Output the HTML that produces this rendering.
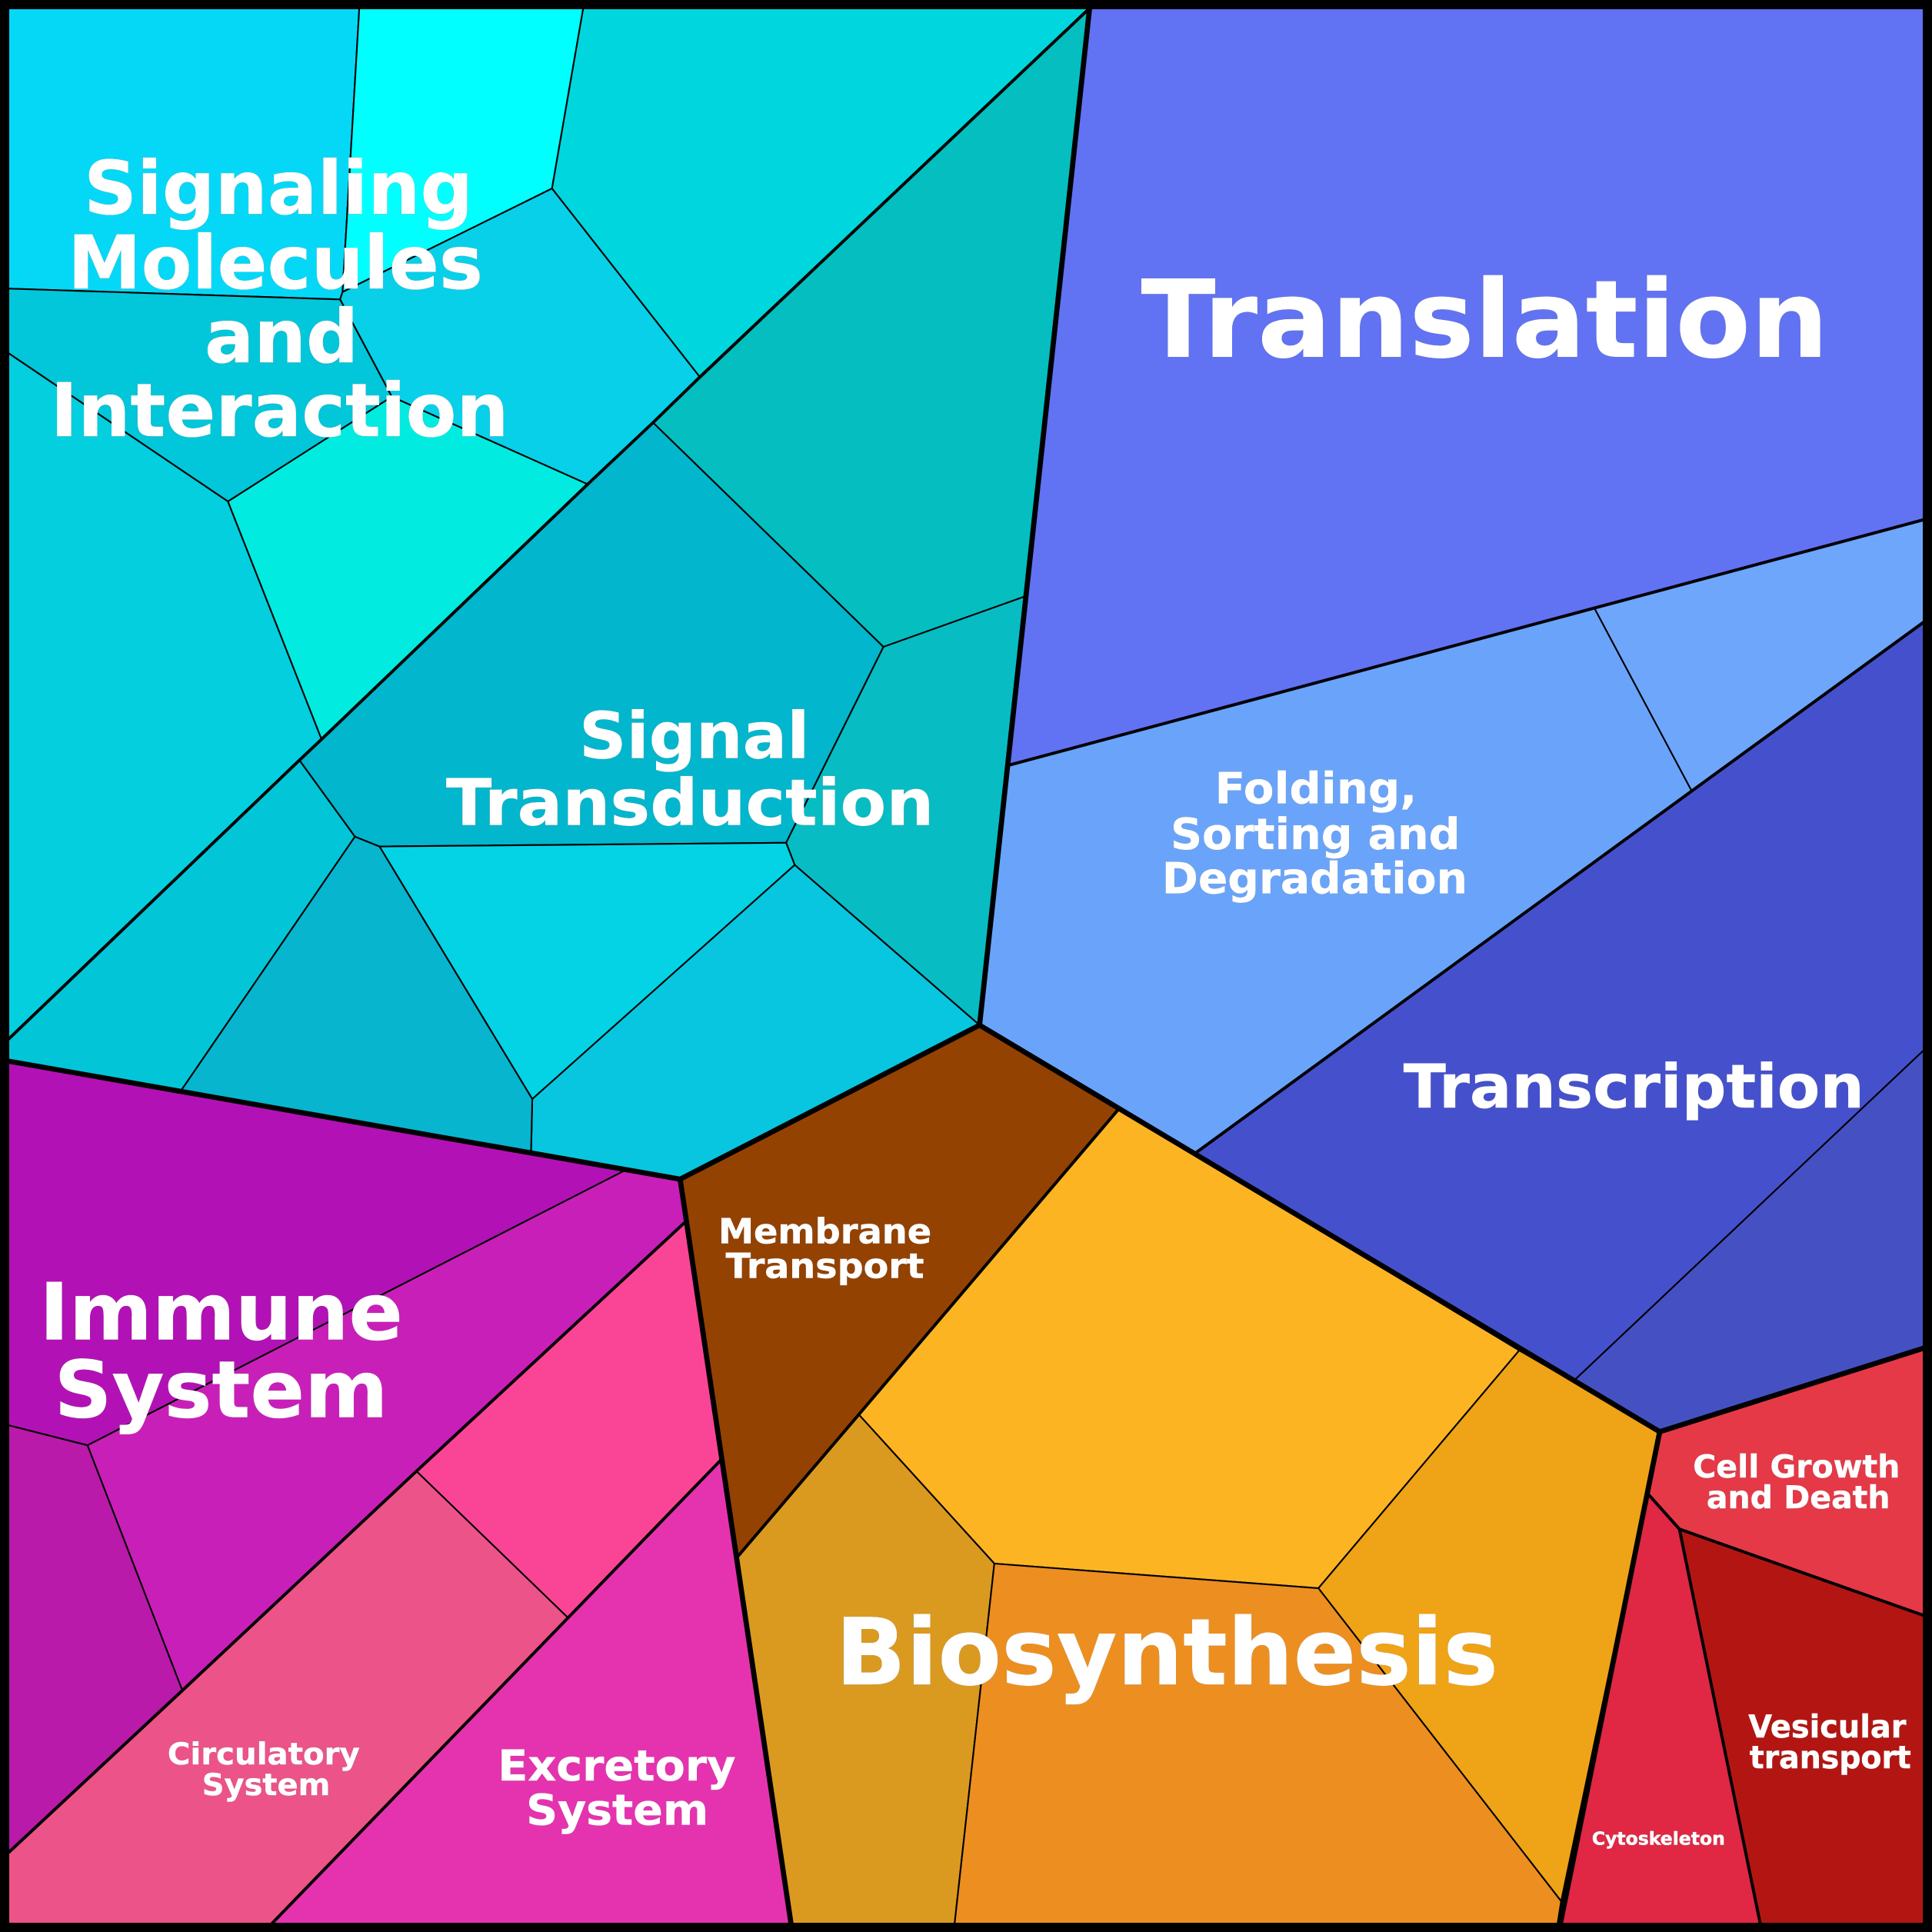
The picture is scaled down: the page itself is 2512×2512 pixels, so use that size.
<!DOCTYPE html>
<html><head><meta charset="utf-8"><style>
html,body{margin:0;padding:0;background:#000}
svg{display:block}
text{font-family:"DejaVu Sans",sans-serif;font-weight:bold;fill:#fff;stroke:#fff;stroke-width:.35;text-rendering:geometricPrecision}
</style></head><body>
<svg xmlns="http://www.w3.org/2000/svg" width="2512" height="2512" viewBox="0 0 1568 1568">
<g stroke="#000" stroke-width="1.3" stroke-linejoin="round">
<polygon fill="#05d8f7" points="0,0 292,0 278,237 276,243 0,234"/>
<polygon fill="#00ffff" points="292,0 474.5,0 448,153 278,237"/>
<polygon fill="#00d6dd" points="474.5,0 891,0 568,306 448,153"/>
<polygon fill="#08d0e8" points="448,153 568,306 477,393 318,322 276,243 278,237"/>
<polygon fill="#02c6d9" points="0,234 276,243 318,322 185,407 0,282"/>
<polygon fill="#03cfdf" points="0,282 185,407 261,600 243,617 0,850"/>
<polygon fill="#02ebe0" points="185,407 318,322 477,393 261,600"/>
<polygon fill="#04bebf" points="530,343 885,6 832,484 717,525"/>
<polygon fill="#01b6cd" points="530,343 717,525 638,684 308,687 288,679 243,617 261,600"/>
<polygon fill="#08bcc4" points="717,525 832,484 795,832 645,702 638,684"/>
<polygon fill="#03d3e5" points="308,687 638,684 645,702 432,892"/>
<polygon fill="#09c6e0" points="645,702 795,832 552,957 431,935 432,892"/>
<polygon fill="#07b5cf" points="288,679 308,687 432,892 431,935 147,885"/>
<polygon fill="#02c6d8" points="243,617 288,679 147,885 0,860 0,850"/>
<polygon fill="#6172f3" points="885,0 1568,0 1568,420 819,621"/>
<polygon fill="#69a4fa" points="819,621 1294,493.5 1373,642 970,936 795,832"/>
<polygon fill="#6ea6fb" points="1294,493.5 1568,420 1568,500 1373,642"/>
<polygon fill="#4551cc" points="1373,642 1568,500 1568,846 1278,1120 970,936"/>
<polygon fill="#4551c3" points="1568,846 1568,1092 1347,1162 1278,1120"/>
<polygon fill="#944202" points="795,832 908,900 697,1148 599,1263 552,957"/>
<polygon fill="#fdb423" points="908,900 1233,1096 1070,1289 807,1269 697,1148"/>
<polygon fill="#efa316" points="1233,1096 1347,1162 1267,1543 1070,1289"/>
<polygon fill="#da9a20" points="697,1148 807,1269 774,1568 643,1568 599,1263"/>
<polygon fill="#ec8f20" points="807,1269 1070,1289 1267,1543 1263,1568 774,1568"/>
<polygon fill="#e53948" points="1347,1162 1568,1092 1568,1313.5 1363,1241 1338,1213"/>
<polygon fill="#e02744" points="1338,1213 1363,1241 1430,1568 1265,1568"/>
<polygon fill="#b31612" points="1363,1241 1568,1313.5 1568,1568 1430,1568"/>
<polygon fill="#b212b5" points="0,860 552,957 507,950 71,1173 0,1155"/>
<polygon fill="#c91fb9" points="507,950 552,957 557,991 148,1372 71,1173"/>
<polygon fill="#b91aa9" points="0,1155 71,1173 148,1372 0,1510"/>
<polygon fill="#fa4597" points="557,991 585,1185 461,1313 338,1194"/>
<polygon fill="#ec5388" points="338,1194 461,1313 214,1568 0,1568 0,1510"/>
<polygon fill="#e533b0" points="585,1185 643,1568 214,1568 461,1313"/>
</g>
<g fill="none" stroke="#000" stroke-width="2.5" stroke-linejoin="round">
<polyline points="885,6 568,306 530,343 477,393 261,600 243,617 0,850"/>
<polyline points="819,621 1294,493.5 1568,420"/>
<polyline points="1568,500 1373,642 970,936"/>
<polyline points="908,900 697,1148 599,1263"/>
<polyline points="557,991 338,1194 148,1372 0,1510"/>
<polyline points="585,1185 461,1313 214,1568"/>
<polyline points="1338,1213 1363,1241 1430,1568"/>
<polyline points="1363,1241 1568,1313.5"/>
</g>
<g fill="none" stroke="#000" stroke-width="4.2" stroke-linejoin="round">
<polyline points="885,0 795,832 552,957 0,860"/>
<polyline points="795,832 1347,1162 1568,1092"/>
<polyline points="552,957 643,1568"/>
<polyline points="1347,1162 1265,1568"/>
<rect x="0" y="0" width="1568" height="1568" stroke-width="15"/>
</g>
<g style="filter:drop-shadow(.8px .8px 0 rgba(0,0,0,.9))">
<text x="926" y="289.5" font-size="87" textLength="558" lengthAdjust="spacingAndGlyphs">Translation</text>
<text x="68" y="173.5" font-size="60" textLength="316" lengthAdjust="spacingAndGlyphs">Signaling</text>
<text x="55" y="234" font-size="60" textLength="337" lengthAdjust="spacingAndGlyphs">Molecules</text>
<text x="166" y="294" font-size="60" textLength="125" lengthAdjust="spacingAndGlyphs">and</text>
<text x="41" y="354" font-size="60" textLength="372" lengthAdjust="spacingAndGlyphs">Interaction</text>
<text x="470" y="615" font-size="52" textLength="187" lengthAdjust="spacingAndGlyphs">Signal</text>
<text x="362" y="669.5" font-size="52" textLength="396" lengthAdjust="spacingAndGlyphs">Transduction</text>
<text x="986" y="652" font-size="35" textLength="164" lengthAdjust="spacingAndGlyphs">Folding,</text>
<text x="950" y="689" font-size="35" textLength="235" lengthAdjust="spacingAndGlyphs">Sorting and</text>
<text x="943" y="725" font-size="35" textLength="248" lengthAdjust="spacingAndGlyphs">Degradation</text>
<text x="1139" y="899" font-size="49" textLength="374" lengthAdjust="spacingAndGlyphs">Transcription</text>
<text x="583" y="1009" font-size="28" textLength="173" lengthAdjust="spacingAndGlyphs">Membrane</text>
<text x="589" y="1037" font-size="28" textLength="161" lengthAdjust="spacingAndGlyphs">Transport</text>
<text x="678" y="1367" font-size="75" textLength="538" lengthAdjust="spacingAndGlyphs">Biosynthesis</text>
<text x="32" y="1087" font-size="64" textLength="295" lengthAdjust="spacingAndGlyphs">Immune</text>
<text x="44" y="1150" font-size="64" textLength="271" lengthAdjust="spacingAndGlyphs">System</text>
<text x="136" y="1432" font-size="24.5" textLength="156" lengthAdjust="spacingAndGlyphs">Circulatory</text>
<text x="164" y="1457" font-size="24.5" textLength="104" lengthAdjust="spacingAndGlyphs">System</text>
<text x="404" y="1445" font-size="34.5" textLength="193" lengthAdjust="spacingAndGlyphs">Excretory</text>
<text x="427" y="1481" font-size="34.5" textLength="148" lengthAdjust="spacingAndGlyphs">System</text>
<text x="1374" y="1199" font-size="25.5" textLength="168" lengthAdjust="spacingAndGlyphs">Cell Growth</text>
<text x="1385" y="1224" font-size="25.5" textLength="149" lengthAdjust="spacingAndGlyphs">and Death</text>
<text x="1419" y="1410" font-size="25.5" textLength="128" lengthAdjust="spacingAndGlyphs">Vesicular</text>
<text x="1420" y="1435" font-size="25.5" textLength="131" lengthAdjust="spacingAndGlyphs">transport</text>
<text x="1292" y="1497" font-size="14.5" textLength="108" lengthAdjust="spacingAndGlyphs">Cytoskeleton</text>
</g>
</svg>
</body></html>
